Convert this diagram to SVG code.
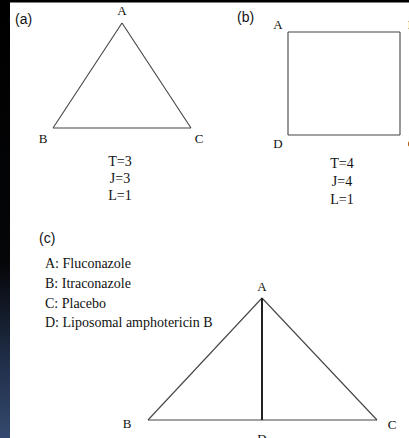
<svg xmlns="http://www.w3.org/2000/svg" width="409" height="438" viewBox="0 0 409 438">
  <defs>
    <linearGradient id="strip" x1="0" y1="0" x2="0" y2="1">
      <stop offset="0" stop-color="#000000"/>
      <stop offset="0.6" stop-color="#050608"/>
      <stop offset="0.8" stop-color="#1d2a42"/>
      <stop offset="1" stop-color="#34496e"/>
    </linearGradient>
  </defs>
  <style>
    .panel { font-family: "Liberation Sans", Arial, sans-serif; font-size: 14px; fill: #111; }
    .vlab { font-family: "Liberation Serif", "Times New Roman", serif; font-size: 13px; fill: #111; text-anchor: middle; }
    .stat { font-family: "Liberation Serif", "Times New Roman", serif; font-size: 14px; fill: #111; text-anchor: middle; }
    .legend { font-family: "Liberation Serif", "Times New Roman", serif; font-size: 14px; fill: #111; }
    .edge { stroke: #444; stroke-width: 1.1; fill: none; }
    .thick { stroke: #222; stroke-width: 2; fill: none; }
  </style>
  <rect x="0" y="0" width="409" height="438" fill="#ffffff"/>
  <rect x="0" y="0" width="10" height="438" fill="url(#strip)"/>
  <rect x="0" y="0" width="409" height="2.5" fill="#000000"/>

  <!-- panel labels -->
  <text class="panel" x="15" y="24">(a)</text>
  <text class="panel" x="237" y="22">(b)</text>
  <text class="panel" x="39" y="243">(c)</text>

  <g id="connectors">
    <!-- (a) triangle -->
    <line class="edge" x1="122" y1="23" x2="53" y2="128"/>
    <line class="edge" x1="122" y1="23" x2="191" y2="128"/>
    <line class="edge" x1="53" y1="128" x2="191" y2="128"/>
    <!-- (b) square -->
    <line class="edge" x1="288" y1="32" x2="400" y2="32"/>
    <line class="edge" x1="400" y1="32" x2="400" y2="135"/>
    <line class="edge" x1="400" y1="135" x2="288" y2="135"/>
    <line class="edge" x1="288" y1="135" x2="288" y2="32"/>
    <!-- (c) star -->
    <line class="edge" x1="262" y1="298" x2="148" y2="420"/>
    <line class="edge" x1="262" y1="298" x2="377" y2="420"/>
    <line class="edge" x1="148" y1="420" x2="377" y2="420"/>
    <line class="thick" x1="262" y1="298" x2="262" y2="420"/>
  </g>

  <!-- (a) nodes -->
  <g id="a-A"><text class="vlab" x="122" y="15">A</text></g>
  <g id="a-B"><text class="vlab" x="43" y="143">B</text></g>
  <g id="a-C"><text class="vlab" x="199" y="143">C</text></g>
  <g id="a-stats">
    <text class="stat" x="120" y="166">T=3</text>
    <text class="stat" x="120" y="183">J=3</text>
    <text class="stat" x="120" y="200">L=1</text>
  </g>

  <!-- (b) nodes -->
  <g id="b-A"><text class="vlab" x="278" y="29">A</text></g>
  <g id="b-B"><text class="vlab" x="412" y="29">B</text></g>
  <g id="b-C"><text class="vlab" x="412" y="148">C</text></g>
  <g id="b-D"><text class="vlab" x="278" y="148">D</text></g>
  <g id="b-stats">
    <text class="stat" x="342" y="168">T=4</text>
    <text class="stat" x="342" y="186">J=4</text>
    <text class="stat" x="342" y="204">L=1</text>
  </g>

  <!-- (c) legend -->
  <g id="c-legend">
    <text class="legend" x="45" y="268">A: Fluconazole</text>
    <text class="legend" x="45" y="288">B: Itraconazole</text>
    <text class="legend" x="45" y="308">C: Placebo</text>
    <text class="legend" x="45" y="327">D: Liposomal amphotericin B</text>
  </g>

  <!-- (c) nodes -->
  <g id="c-A"><text class="vlab" x="262" y="291">A</text></g>
  <g id="c-B"><text class="vlab" x="127" y="428">B</text></g>
  <g id="c-C"><text class="vlab" x="392" y="429">C</text></g>
  <g id="c-D"><text class="vlab" x="262" y="443">D</text></g>
</svg>
